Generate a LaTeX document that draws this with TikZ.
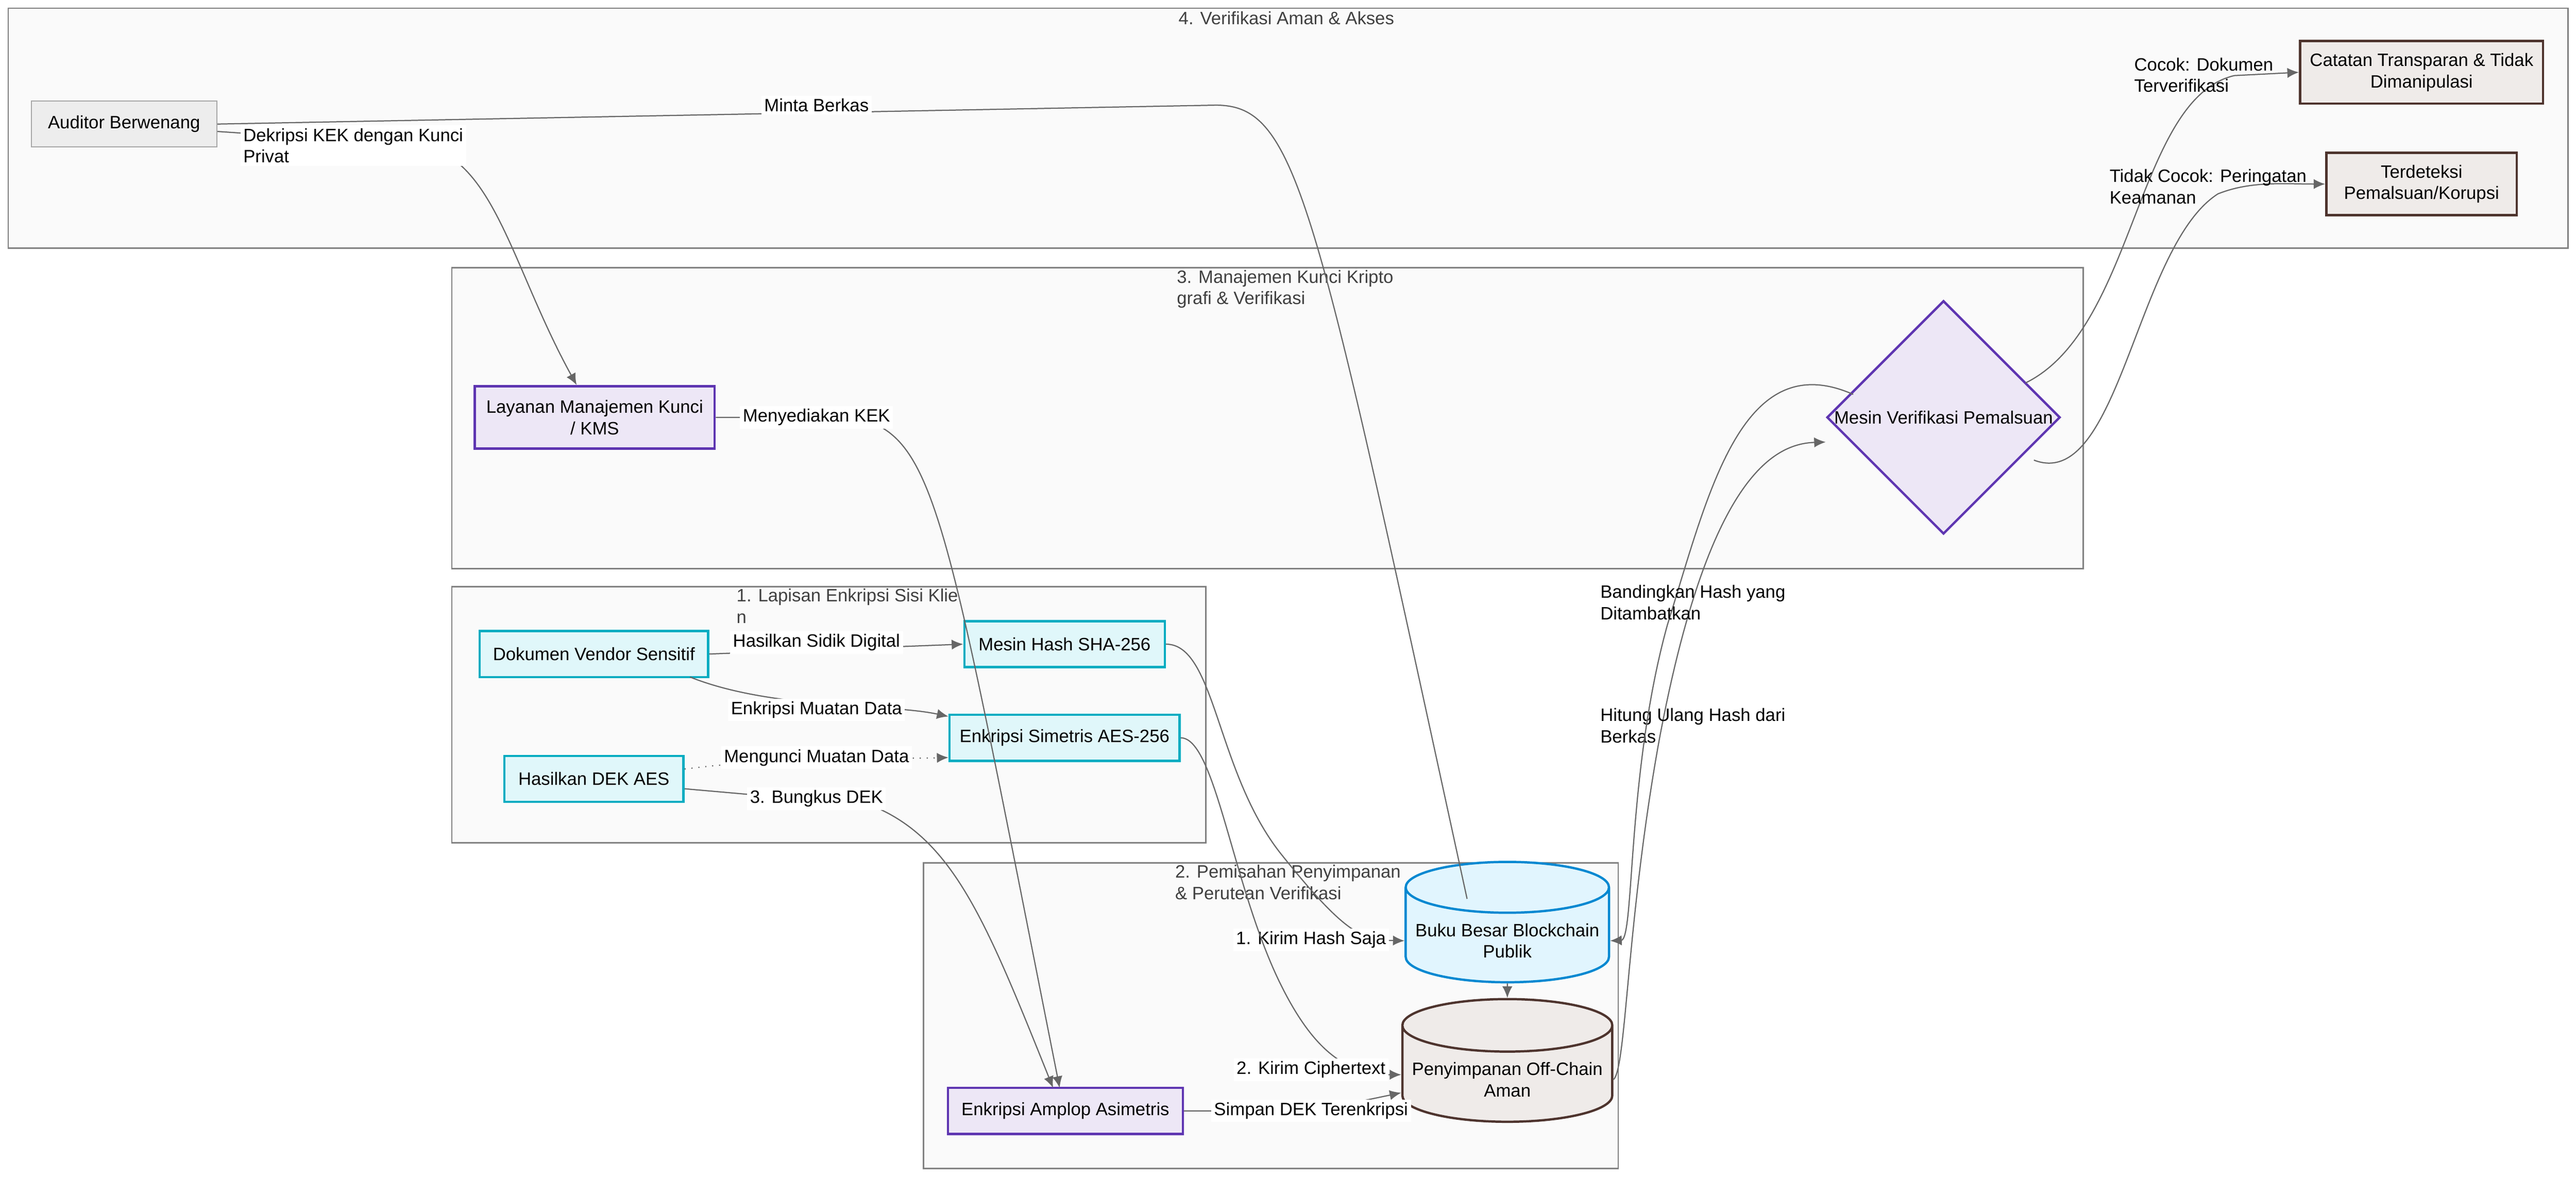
\documentclass[tikz,border=0pt]{standalone}
\usepackage{fontspec}
\setmainfont{Liberation Sans}
\usetikzlibrary{shapes,arrows,positioning,calc,shapes.geometric,arrows.meta}
\definecolor{cyanfill}{HTML}{E0F7FA}
\definecolor{cyandraw}{HTML}{00ACC1}
\definecolor{purpfill}{HTML}{EDE7F6}
\definecolor{purpdraw}{HTML}{5E35B1}
\definecolor{brownfill}{HTML}{EFEBE9}
\definecolor{browndraw}{HTML}{4E342E}
\definecolor{bluefill}{HTML}{E1F5FE}
\definecolor{bluedraw}{HTML}{0288D1}
\definecolor{groupfill}{HTML}{FAFAFA}
\definecolor{linecol}{HTML}{666666}
\begin{document}
\begin{tikzpicture}[
    x=0.02cm, y=-0.02cm,
    font=\fontsize{6.2}{7.4}\selectfont,
    group/.style={draw=black!50, fill=groupfill, line width=0.5pt},
    title/.style={anchor=north west, align=left, text=black!75, inner sep=0pt},
    client/.style={rectangle, draw=cyandraw, fill=cyanfill, line width=0.8pt, minimum height=0.56cm, align=center},
    keybox/.style={rectangle, draw=purpdraw, fill=purpfill, line width=0.8pt, minimum height=0.76cm, align=center},
    outbox/.style={rectangle, draw=browndraw, fill=brownfill, line width=0.8pt, minimum height=0.76cm, align=center},
    store/.style={cylinder, shape border rotate=90, aspect=0.25, line width=0.8pt, minimum width=2.06cm, minimum height=1.12cm, align=center},
    lbl/.style={fill=white, inner sep=1pt, align=left},
    arrow/.style={-{Latex[length=4pt,width=3.5pt]}, linecol, line width=0.4pt}
]
    \useasboundingbox[fill=white] (0,0) rectangle (1568,716);
    % groups
    \draw[group] (5,5) rectangle (1563,151);
    \node[text=black!75] (g4) at (783,11) {4. Verifikasi Aman \& Akses};
    \draw[group] (275,163) rectangle (1268,346);
    \node[title] (g3) at (716,164) {3. Manajemen Kunci Kripto\\grafi \& Verifikasi};
    \draw[group] (275,357) rectangle (734,513);
    \node[title] (g1) at (448,358) {1. Lapisan Enkripsi Sisi Klie\\n};
    \draw[group] (562,525) rectangle (985,711);
    \node[title] (g2) at (715,526) {2. Pemisahan Penyimpanan\\\& Perutean Verifikasi};

    % nodes
    \node[rectangle, draw=black!35, fill=black!7, minimum width=2.26cm, minimum height=0.56cm] (auditor) at (75.5,75.5) {Auditor Berwenang};
    \node[outbox, minimum width=2.96cm] (catatan) at (1474,44) {Catatan Transparan \& Tidak\\Dimanipulasi};
    \node[outbox, minimum width=2.32cm] (deteksi) at (1474,112) {Terdeteksi\\Pemalsuan/Korupsi};
    \node[keybox, minimum width=2.92cm] (kms) at (362,254) {Layanan Manajemen Kunci\\/ KMS};
    \node[diamond, draw=purpdraw, fill=purpfill, line width=0.8pt, minimum width=2.84cm, minimum height=2.84cm, inner sep=0pt] (verif) at (1183,254) {Mesin Verifikasi Pemalsuan};
    \node[client, minimum width=2.78cm] (dokumen) at (361.5,398) {Dokumen Vendor Sensitif};
    \node[client, minimum width=2.44cm] (hash) at (648,392) {Mesin Hash SHA-256};
    \node[client, minimum width=2.8cm] (aes) at (648,449) {Enkripsi Simetris AES-256};
    \node[client, minimum width=2.18cm] (dek) at (361.5,474) {Hasilkan DEK AES};
    \node[keybox, minimum width=2.86cm, minimum height=0.56cm] (amplop) at (648.5,676) {Enkripsi Amplop Asimetris};
    \node[store, draw=bluedraw, fill=bluefill] (ledger) at (917.5,572.5) {Buku Besar Blockchain\\Publik};
    \node[store, draw=browndraw, fill=brownfill, minimum width=2.14cm] (offchain) at (917.5,657) {Penyimpanan Off-Chain\\Aman};

    % connectors
    \draw[linecol, line width=0.4pt] (auditor.east) -- (740,64) .. controls (790,64) and (800,120) .. (893,547);
    \node[lbl] (l1) at (497,64) {Minta Berkas};
    \draw[arrow] (auditor.east |- 0,80) -- (250,88) .. controls (300,90) and (310,160) .. (kms.north -| 351,0);
    \node[lbl, anchor=north west] (l2) at (146,76) {Dekripsi KEK dengan Kunci\\Privat};
    \draw[arrow] (kms.east) -- (520,254) .. controls (570,265) and (575,310) .. (645,662);
    \node[lbl] (l3) at (497,254) {Menyediakan KEK};
    \draw[arrow] (dokumen.east) -- (hash.west);
    \node[lbl] (l4) at (497,391) {Hasilkan Sidik Digital};
    \draw[arrow] (420,412) .. controls (470,432) and (540,428) .. (aes.west |- 0,436);
    \node[lbl] (l5) at (497,432) {Enkripsi Muatan Data};
    \draw[arrow, dotted] (dek.east |- 0,468) .. controls (480,460) and (540,462) .. (aes.west |- 0,461);
    \node[lbl] (l6) at (497,461) {Mengunci Muatan Data};
    \draw[arrow] (dek.east |- 0,480) -- (530,490) .. controls (580,510) and (600,560) .. (641,662);
    \node[lbl] (l7) at (497,486) {3. Bungkus DEK};
    \draw[arrow] (hash.east) .. controls (740,392) and (740,470) .. (780,520) .. controls (820,570) and (830,572) .. (ledger.west);
    \node[lbl] (l8) at (798,572) {1. Kirim Hash Saja};
    \draw[arrow] (aes.east) .. controls (740,449) and (750,540) .. (780,600) .. controls (800,640) and (820,654) .. (offchain.west |- 0,654);
    \node[lbl] (l9) at (798,651) {2. Kirim Ciphertext};
    \draw[arrow] (amplop.east) -- (800,676) -- (offchain.west |- 0,665);
    \node[lbl] (l10) at (798,676) {Simpan DEK Terenkripsi};
    \draw[arrow] (ledger.south) -- (offchain.north);
    \draw[arrow] (offchain.east) .. controls (990,650) and (990,560) .. (1010,450) .. controls (1040,290) and (1080,270) .. (verif.west |- 0,269);
    \node[lbl, anchor=north west, fill=none] (l11) at (972,429) {Hitung Ulang Hash dari\\Berkas};
    \draw[arrow] (1128,240) .. controls (1060,210) and (1040,300) .. (1015,380) .. controls (990,470) and (995,572) .. (ledger.east);
    \node[lbl, anchor=north west, fill=none] (l12) at (972,354) {Bandingkan Hash yang\\Ditambatkan};
    \draw[arrow] (1233,233) .. controls (1300,200) and (1300,60) .. (1360,46) -- (catatan.west);
    \node[lbl, anchor=north west, fill=none] (l13) at (1297,33) {Cocok: Dokumen\\Terverifikasi};
    \draw[arrow] (1238,280) .. controls (1290,300) and (1300,150) .. (1350,118) .. controls (1370,110) and (1390,112) .. (deteksi.west);
    \node[lbl, anchor=north west, fill=none] (l14) at (1282,101) {Tidak Cocok: Peringatan\\Keamanan};
\end{tikzpicture}
\end{document}
